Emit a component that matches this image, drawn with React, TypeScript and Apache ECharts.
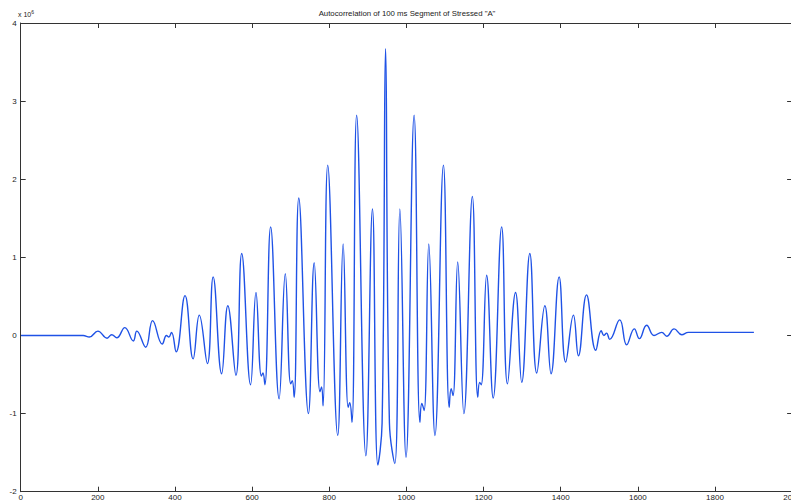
import React, { useEffect, useRef } from "react";
import * as echarts from "echarts";

// Lag (samples) and autocorrelation value (x 10^6) read at turning points of the trace
const lags = [
  1, 162, 178, 200, 224, 236, 249, 270, 292, 301, 324, 342, 367, 378, 384, 391, 403,
  426, 447, 463, 484, 499, 521, 537, 558, 573, 596, 610, 624, 628, 633, 648, 670, 686,
  700, 704, 709, 721, 746, 761, 776, 780, 784, 796, 822, 836, 849, 853, 859, 871, 895,
  912, 926, 937, 946, 956, 970, 983, 999, 1020, 1035, 1040, 1046, 1058, 1074, 1096,
  1111, 1116, 1121, 1133, 1149, 1171, 1185, 1190, 1194, 1208, 1225, 1247, 1262, 1283,
  1299, 1320, 1338, 1359, 1375, 1396, 1413, 1433, 1446, 1467, 1491, 1505, 1512, 1519,
  1527, 1553, 1571, 1591, 1604, 1623, 1642, 1662, 1675, 1694, 1714, 1731, 1901,
];
const values = [
  0, 0, -0.02, 0.055, -0.035, 0.01, -0.03, 0.1, -0.07, 0.055, -0.15, 0.19, -0.11, 0, -0.02, 0.04, -0.21,
  0.51, -0.3, 0.26, -0.36, 0.75, -0.49, 0.38, -0.51, 1.05, -0.63, 0.55, -0.52, -0.48, -0.63, 1.39, -0.81, 0.79,
  -0.62, -0.58, -0.79, 1.76, -1.0, 0.93, -0.72, -0.66, -0.9, 2.18, -1.28, 1.17, -0.92, -0.86, -1.11, 2.82, -1.54,
  1.62, -1.66, -1.12, 3.67, -1.12, -1.64, 1.62, -1.56, 2.82, -1.11, -0.87, -0.96, 1.17, -1.28, 2.18,
  -0.92, -0.68, -0.77, 0.94, -1.0, 1.78, -0.79, -0.6, -0.63, 0.77, -0.8, 1.39, -0.62, 0.55,
  -0.6, 1.05, -0.48, 0.38, -0.49, 0.75, -0.34, 0.26, -0.26, 0.52, -0.19, 0.06, 0.0, 0.03,
  -0.05, 0.2, -0.12, 0.085, -0.04, 0.13, 0, 0.04, -0.01, 0.085, 0.01, 0.04, 0.04,
];

const xTicks = [0, 200, 400, 600, 800, 1000, 1200, 1400, 1600, 1800, 2000];
const yTicks = [-2, -1, 0, 1, 2, 3, 4];

const TITLE = 'Autocorrelation of 100 ms Segment of Stressed "A"';
const AXIS_COLOR = "#333333";
const LINE_COLOR = "#1f52e6";
const FONT = "Liberation Sans, Arial, sans-serif";

export default function App() {
  const ref = useRef<HTMLDivElement>(null);

  useEffect(() => {
    if (!ref.current) return;
    const chart = echarts.init(ref.current, undefined, { renderer: "svg" });
    const data = lags.map((x, i) => [x, values[i]]);
    const xMin = xTicks[0];
    const xMax = xTicks[xTicks.length - 1];
    const yMin = yTicks[0];
    const yMax = yTicks[yTicks.length - 1];

    const axisLineStyle = { color: AXIS_COLOR, width: 1 };
    const labelStyle = { color: "#222", fontSize: 8, fontFamily: FONT };
    const plain = (v: number) => String(v);

    chart.setOption({
      animation: false,
      backgroundColor: "#ffffff",
      title: {
        text: TITLE,
        left: 402,
        top: 4,
        textAlign: "center",
        textStyle: { fontSize: 7.8, fontWeight: "normal", color: "#222", fontFamily: FONT },
      },
      graphic: [
        {
          type: "text",
          left: 18,
          top: 9,
          style: {
            text: "x 10{sup|6}",
            rich: { sup: { fontSize: 5, verticalAlign: "top", padding: [0, 0, 5, 0] } },
            fontSize: 7,
            fill: "#222",
            fontFamily: FONT,
          },
        },
      ],
      grid: {
        left: 20.7,
        right: -1.1,
        top: 23,
        bottom: 10.3,
        containLabel: false,
        outerBoundsMode: "none",
      },
      xAxis: [
        {
          type: "value",
          min: xMin,
          max: xMax,
          interval: 200,
          position: "bottom",
          axisLine: { show: true, onZero: false, lineStyle: axisLineStyle },
          axisTick: { show: true, inside: true, length: 5, lineStyle: axisLineStyle },
          axisLabel: { show: true, margin: 2, formatter: plain, ...labelStyle },
          splitLine: { show: false },
        },
        {
          type: "value",
          min: xMin,
          max: xMax,
          interval: 200,
          position: "top",
          axisLine: { show: true, onZero: false, lineStyle: axisLineStyle },
          axisTick: { show: true, inside: true, length: 5, lineStyle: axisLineStyle },
          axisLabel: { show: false },
          splitLine: { show: false },
        },
      ],
      yAxis: [
        {
          type: "value",
          min: yMin,
          max: yMax,
          interval: 1,
          position: "left",
          axisLine: { show: true, onZero: false, lineStyle: axisLineStyle },
          axisTick: { show: true, inside: true, length: 5, lineStyle: axisLineStyle },
          axisLabel: { show: true, margin: 4, formatter: plain, ...labelStyle },
          splitLine: { show: false },
        },
        {
          type: "value",
          min: yMin,
          max: yMax,
          interval: 1,
          position: "right",
          axisLine: { show: true, onZero: false, lineStyle: axisLineStyle },
          axisTick: { show: true, inside: true, length: 5, lineStyle: axisLineStyle },
          axisLabel: { show: false },
          splitLine: { show: false },
        },
      ],
      series: [
        {
          type: "line",
          data,
          xAxisIndex: 0,
          yAxisIndex: 0,
          showSymbol: false,
          smooth: 0.45,
          lineStyle: { color: LINE_COLOR, width: 1.4 },
        },
      ],
    });
    return () => chart.dispose();
  }, []);

  return (
    <div
      ref={ref}
      style={{ position: "fixed", left: 0, top: 0, width: 791, height: 502, background: "#fff" }}
    />
  );
}
